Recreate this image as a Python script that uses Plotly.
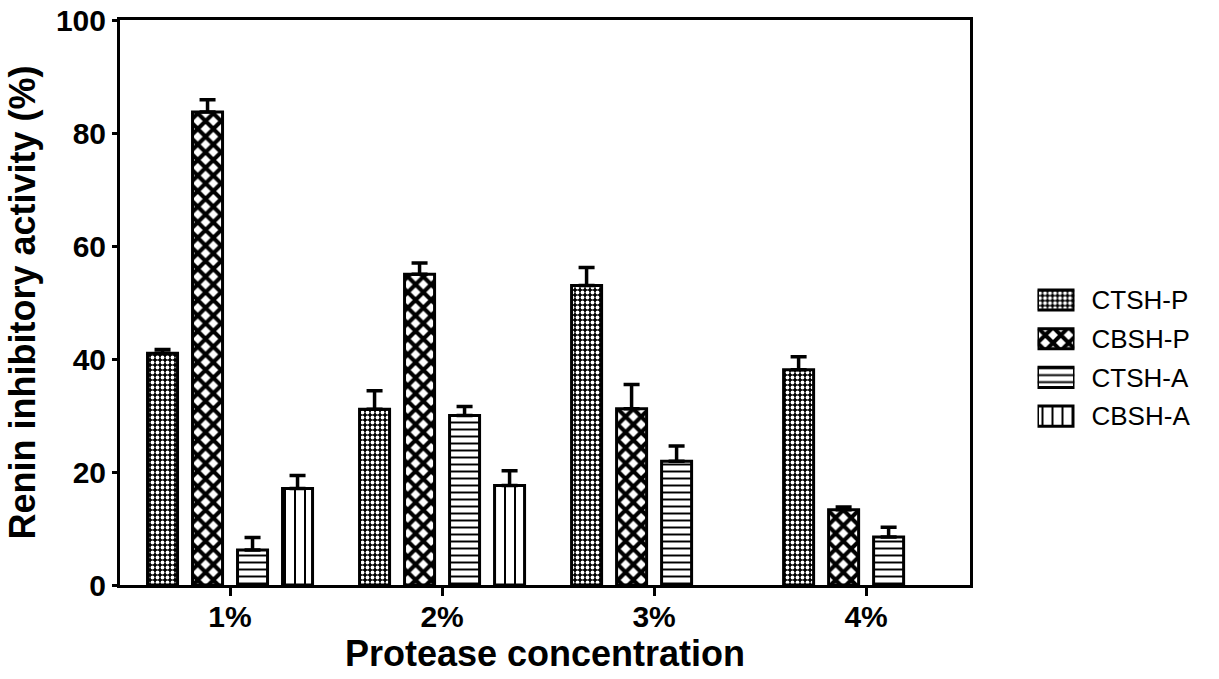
import plotly.graph_objects as go

categories = ["1%", "2%", "3%", "4%"]
series_names = ["CTSH-P", "CBSH-P", "CTSH-A", "CBSH-A"]
ctsh_p = [41.0, 31.1, 53.0, 38.1]
ctsh_p_err = [0.7, 3.3, 3.2, 2.3]
cbsh_p = [83.7, 55.0, 31.2, 13.3]
cbsh_p_err = [2.2, 2.0, 4.3, 0.5]
ctsh_a = [6.2, 30.0, 21.9, 8.5]
ctsh_a_err = [2.2, 1.6, 2.7, 1.7]
cbsh_a = [17.1, 17.6, None, None]
cbsh_a_err = [2.3, 2.6, None, None]
y_ticks = [0, 20, 40, 60, 80, 100]

values = [ctsh_p, cbsh_p, ctsh_a, cbsh_a]
errors = [ctsh_p_err, cbsh_p_err, ctsh_a_err, cbsh_a_err]

patterns = [
    dict(shape=".", size=5, solidity=0.45, fgcolor="white", bgcolor="black", fgopacity=1),
    dict(shape="x", size=11, solidity=0.6, fgcolor="black", bgcolor="white", fgopacity=1),
    dict(shape="-", size=7, solidity=0.28, fgcolor="black", bgcolor="white", fgopacity=1),
    dict(shape="|", size=10, solidity=0.2, fgcolor="black", bgcolor="white", fgopacity=1),
]

FONT = "Arial, Liberation Sans, sans-serif"
fig = go.Figure()

for name, vals, errs, pat in zip(series_names, values, errors, patterns):
    fig.add_trace(go.Bar(
        x=categories, y=vals, name=name,
        marker=dict(color="white", pattern=pat, line=dict(color="black", width=3)),
        error_y=dict(type="data", array=errs, arrayminus=[0] * len(errs), symmetric=False,
                     color="black", thickness=3.5, width=8),
        showlegend=False, xaxis="x", yaxis="y",
    ))

# legend drawn as a small subplot of swatches with the names as tick labels
leg_pos = list(range(len(series_names)))
for i, (name, pat) in enumerate(zip(series_names, patterns)):
    fig.add_trace(go.Bar(
        x=[1], y=[leg_pos[i]], orientation="h", base=0, width=0.52, offset=-0.26,
        marker=dict(color="white", pattern=pat, line=dict(color="black", width=3)),
        showlegend=False, xaxis="x2", yaxis="y2", hoverinfo="skip",
    ))

W = 1219
L, R, T, B = 120, 0, 20, 94
pw = W - L - R

def px2paper(px):
    return (px - L) / pw

fig.update_layout(
    width=1219, height=679,
    margin=dict(l=L, r=R, t=T, b=B),
    paper_bgcolor="white", plot_bgcolor="white",
    barmode="group", bargap=0.151, bargroupgap=0.333,
    font=dict(family=FONT, color="black"),
    showlegend=False,
    xaxis=dict(
        domain=[0, px2paper(970)], type="category", range=[-0.519, 3.49],
        showline=True, linecolor="black", linewidth=3, mirror=True,
        ticks="outside", ticklen=8, tickwidth=3, tickcolor="black",
        tickfont=dict(size=30, weight="bold", family=FONT),
        ticklabelstandoff=-5,
        showgrid=False, zeroline=False,
        title=dict(text="<b>Protease concentration</b>", font=dict(size=36, family=FONT), standoff=8),
    ),
    yaxis=dict(
        range=[0, 100], tickvals=y_ticks,
        showline=True, linecolor="black", linewidth=3, mirror=True,
        ticks="outside", ticklen=5, tickwidth=3, tickcolor="black",
        tickfont=dict(size=30, weight="bold", family=FONT),
        showgrid=False, zeroline=False,
        title=dict(text="<b>Renin inhibitory activity (%)</b>", font=dict(size=36, family=FONT), standoff=10),
    ),
    xaxis2=dict(
        domain=[px2paper(1037.5), px2paper(1074.5)], range=[0, 1], anchor="y2",
        visible=False, fixedrange=True,
    ),
    yaxis2=dict(
        domain=[(585 - 435.45) / 565, (585 - 280.65) / 565],
        range=[3.5, -0.5], anchor="x2", side="right",
        tickvals=leg_pos, ticktext=series_names,
        tickfont=dict(size=26, family=FONT, color="black"),
        ticks="", showline=False, showgrid=False, zeroline=False,
        ticklabelstandoff=16, fixedrange=True,
    ),
)

fig.write_html("out.html")
